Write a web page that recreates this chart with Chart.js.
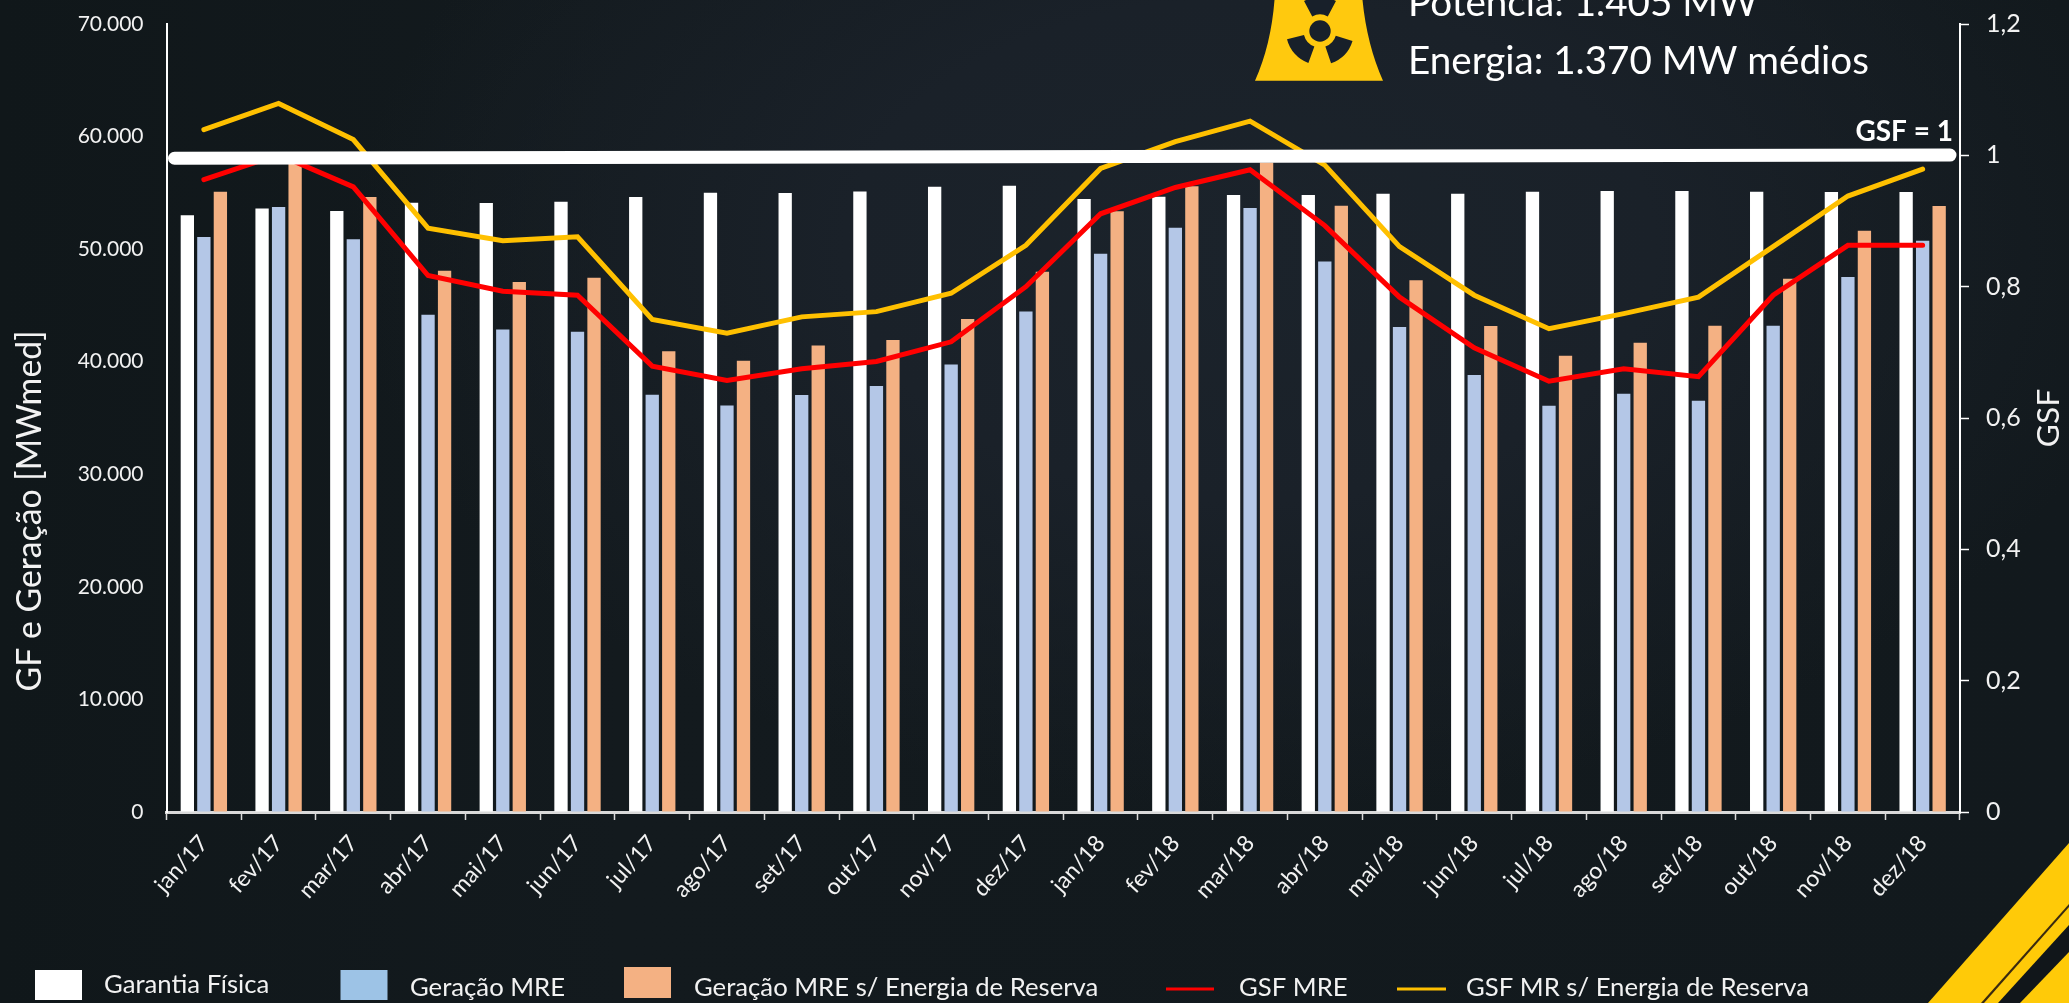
<!DOCTYPE html>
<html><head><meta charset="utf-8">
<style>
html,body{margin:0;padding:0;width:2069px;height:1003px;overflow:hidden;background:#141b20}
#bg{position:absolute;left:0;top:0;width:2069px;height:1003px;background:
 radial-gradient(ellipse 900px 560px at 1250px 250px,#1b232b 0%,#1a2129 45%,rgba(24,32,40,0) 100%),
 linear-gradient(90deg,#10171a 0%,#131a1e 30%,#12191d 100%)}
canvas{position:absolute;left:0;top:0}
</style>
<script src="https://cdn.jsdelivr.net/npm/chart.js@4/dist/chart.umd.min.js"></script>
</head><body>
<div id="bg"></div>
<canvas id="c" width="2069" height="1003"></canvas>
<script>
const categories=['jan/17','fev/17','mar/17','abr/17','mai/17','jun/17','jul/17','ago/17','set/17','out/17','nov/17','dez/17','jan/18','fev/18','mar/18','abr/18','mai/18','jun/18','jul/18','ago/18','set/18','out/18','nov/18','dez/18'];
const garantiaFisica=[53000,53620,53380,54120,54100,54210,54630,55010,54980,55130,55550,55640,54450,54660,54800,54800,54920,54920,55100,55160,55160,55100,55070,55070];
const geracaoMRE=[51080,53740,50870,44180,42870,42670,37070,36120,37040,37840,39760,44470,49590,51900,53650,48910,43080,38820,36090,37160,36540,43200,47520,50750];
const geracaoReserva=[55100,57900,54630,48080,47080,47460,40920,40090,41450,41930,43790,48000,53360,55580,57700,53860,47230,43170,40530,41690,43200,47370,51640,53830];
const gsfMRE=[0.963,1.001,0.952,0.817,0.793,0.787,0.679,0.657,0.675,0.686,0.716,0.800,0.911,0.951,0.978,0.893,0.784,0.707,0.656,0.675,0.663,0.787,0.863,0.863];
const gsfReserva=[1.039,1.079,1.024,0.889,0.870,0.876,0.750,0.729,0.754,0.762,0.790,0.863,0.980,1.021,1.052,0.985,0.861,0.787,0.736,0.759,0.784,0.861,0.938,0.979];
const seriesNames=['Garantia Física','Geração MRE','Geração MRE s/ Energia de Reserva','GSF MRE','GSF MR s/ Energia de Reserva'];
const leftTitle='GF e Geração [MWmed]';
const rightTitle='GSF';
const gsfLineLabel='GSF = 1';
const noteLines=['Potência: 1.405 MW','Energia: 1.370 MW médios'];
const FONT='Lato, sans-serif';

const decor={id:'decor',
 beforeDraw(ch){
  const c=ch.ctx;c.save();
  const poly=(col,p)=>{c.fillStyle=col;c.beginPath();p.forEach((q,i)=>i?c.lineTo(q[0],q[1]):c.moveTo(q[0],q[1]));c.closePath();c.fill();};
  poly('#ffca08',[[2069,843],[1928,1003],[2069,1003]]);
  poly('#3a2a10',[[2069,904],[1981,1003],[1984,1003],[2069,907]]);
  poly('#11161a',[[2069,925],[1998,1003],[2020,1003],[2069,952]]);
  c.fillStyle='#ffc90e';c.beginPath();c.moveTo(1274.5,0);c.lineTo(1362.5,0);
  c.quadraticCurveTo(1367,45,1383,80.7);c.lineTo(1255,80.7);c.quadraticCurveTo(1271,45,1274.5,0);c.fill();
  c.fillStyle='#18202a';
  const cx=1320,cy=31;
  c.beginPath();c.arc(cx,cy,10.7,0,7);c.fill();
  [[-118,-62],[17,71],[110,166]].forEach(a=>{
   const r0=a[0]*Math.PI/180,r1=a[1]*Math.PI/180;
   c.beginPath();c.arc(cx,cy,34,r0,r1);c.arc(cx,cy,16.5,r1,r0,true);c.closePath();c.fill();});
  c.restore();
 },
 afterDatasetsDraw(ch){
  const c=ch.ctx,y=ch.scales.y2,a=ch.chartArea;c.save();
  c.strokeStyle='#fff';c.lineWidth=13;c.lineCap='round';c.beginPath();
  c.moveTo(a.left+8,y.getPixelForValue(0.9956));c.lineTo(a.right-10,y.getPixelForValue(1.0004));c.stroke();
  c.fillStyle='#fff';c.font='bold 28px '+FONT;c.textAlign='right';c.textBaseline='middle';
  c.fillText(gsfLineLabel,1953,132);
  c.font='38.6px '+FONT;c.textAlign='left';c.textBaseline='alphabetic';
  c.fillText(noteLines[0],1408,16);c.fillText(noteLines[1],1408,74);
  c.fillStyle='#f2f2f2';c.font='33.8px '+FONT;c.textAlign='center';c.textBaseline='middle';
  c.save();c.translate(30,511);c.rotate(-Math.PI/2);c.fillText(leftTitle,0,0);c.restore();
  c.font='31.7px '+FONT;
  c.save();c.translate(2049,418);c.rotate(-Math.PI/2);c.fillText(rightTitle,0,0);c.restore();
  c.font='25.7px '+FONT;c.textAlign='left';c.textBaseline='middle';
  const sw=[[35,970,47,30,'#ffffff'],[340.5,970,47,30,'#9dc3e6'],[624,967,47,31,'#f4b183']];
  sw.forEach(s=>{c.fillStyle=s[4];c.fillRect(s[0],s[1],s[2],s[3]);});
  c.fillStyle='#ff0000';c.fillRect(1166,987.5,48,3);
  c.fillStyle='#ffc000';c.fillRect(1397,987.5,49,3);
  c.fillStyle='#f2f2f2';
  [[104,985],[410,988],[694,988],[1239,988],[1466,988]].forEach((p,i)=>c.fillText(seriesNames[i],p[0],p[1]));
  c.restore();
 }};

new Chart(document.getElementById('c'),{
 data:{labels:categories,datasets:[
  {type:'line',label:seriesNames[3],data:gsfMRE,yAxisID:'y2',borderColor:'#ff0000',borderWidth:5,pointRadius:0,tension:0,borderCapStyle:'round',borderJoinStyle:'miter',order:1},
  {type:'line',label:seriesNames[4],data:gsfReserva,yAxisID:'y2',borderColor:'#ffc000',borderWidth:5,pointRadius:0,tension:0,borderCapStyle:'round',borderJoinStyle:'miter',order:1},
  {type:'bar',label:seriesNames[0],data:garantiaFisica,yAxisID:'y',backgroundColor:'#ffffff',order:2},
  {type:'bar',label:seriesNames[1],data:geracaoMRE,yAxisID:'y',backgroundColor:'#b4c7e7',order:2},
  {type:'bar',label:seriesNames[2],data:geracaoReserva,yAxisID:'y',backgroundColor:'#f4b183',order:2}
 ]},
 options:{
  responsive:false,animation:false,
  layout:{padding:{top:24,left:0,right:0,bottom:0}},
  datasets:{bar:{categoryPercentage:0.663,barPercentage:0.806}},
  plugins:{legend:{display:false},tooltip:{enabled:false},title:{display:false}},
  scales:{
   x:{position:'bottom',
    afterFit(s){s.height=191;s.paddingLeft=0;s.paddingRight=0;},
    grid:{drawOnChartArea:false,drawTicks:true,tickLength:8,tickColor:'#d9d9d9',tickWidth:1.5,offset:true},
    border:{color:'#d9d9d9',width:3},
    ticks:{color:'#f2f2f2',font:{family:'Lato',size:23},minRotation:48,maxRotation:48,padding:10,autoSkip:false}},
   y:{position:'left',min:0,max:70000,
    afterFit(s){s.width=166.5;s.paddingTop=0;s.paddingBottom=0;},
    grid:{drawOnChartArea:false,drawTicks:false},
    border:{color:'#ffffff',width:2},
    ticks:{color:'#f2f2f2',font:{family:'Lato',size:21},stepSize:10000,padding:23,
     callback:v=>String(v).replace(/\B(?=(\d{3})+$)/,'.')}},
   y2:{position:'right',min:0,max:1.2,
    afterFit(s){s.width=109;s.paddingTop=0;s.paddingBottom=0;},
    grid:{drawOnChartArea:false,drawTicks:true,tickLength:9,tickColor:'#ffffff',tickWidth:1.5},
    border:{color:'#ffffff',width:2},
    ticks:{color:'#f2f2f2',font:{family:'Lato',size:25},stepSize:0.2,padding:17,
     callback:v=>String(Math.round(v*10)/10).replace('.',',')}}
  }
 },
 plugins:[decor]
});
</script>
</body></html>
